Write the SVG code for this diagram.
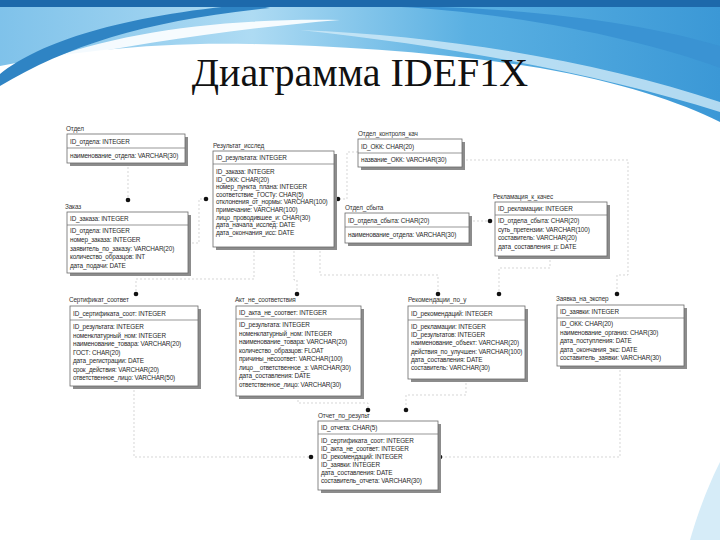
<svg xmlns="http://www.w3.org/2000/svg" width="720" height="540" viewBox="0 0 720 540">
<style>
.lbl{font-family:"Liberation Sans",Arial,sans-serif;font-size:6.4px;fill:#333;letter-spacing:-0.15px}
.t{font-family:"Liberation Sans",Arial,sans-serif;font-size:6.4px;fill:#2a2a2a;letter-spacing:-0.15px}
.box{fill:#fff;stroke:#6a6a6a;stroke-width:0.8}
.sh{fill:#8c8c8c}
.div{stroke:#6a6a6a;stroke-width:0.7}
.rel{fill:none;stroke:#c4c4c4;stroke-width:0.7;stroke-dasharray:2 2}
.dot{fill:#111}
.title{font-family:"Liberation Serif","Times New Roman",serif;font-size:40px;fill:#111}
</style>
<defs>
<linearGradient id="gMain" x1="0" y1="0" x2="1" y2="0">
<stop offset="0" stop-color="#7fc2ea"/>
<stop offset="0.35" stop-color="#aedbf3"/>
<stop offset="0.65" stop-color="#5ab0e2"/>
<stop offset="1" stop-color="#3b98d6"/>
</linearGradient>
</defs>
<rect width="720" height="540" fill="#fff"/>
<g id="background">
<path d="M0,0 H720 V122 C680,102 620,82 540,68 C440,52 340,46 250,44 C150,42 70,52 0,66 Z" fill="url(#gMain)"/>
<path d="M380,6 C500,10 640,38 720,68 V46 C640,22 520,6 380,6 Z" fill="#3a93d3"/>
<path d="M300,30 C450,36 600,62 720,102 V112 C600,74 450,46 300,30 Z" fill="#cfeaf8" opacity="0.8"/>
<path d="M40,62 C120,32 220,18 340,20 C240,28 150,42 40,62 Z" fill="#fff" opacity="0.9"/>
<path d="M0,74 C40,42 120,16 250,4 L270,8 C150,20 70,44 0,86 Z" fill="#2f84c4"/>
<rect x="0" y="0" width="720" height="7" fill="#1d69ab"/>
<path d="M690,540 C700,505 712,478 720,462 V540 Z" fill="#d6ecf8"/>
</g>
<text class="title" x="360" y="86" text-anchor="middle">Диаграмма IDEF1X</text>

<g id="connectors">
<path class="rel" d="M128,163 V198"/>
<path class="rel" d="M188,243 H199 V199 H204"/>
<path class="rel" d="M358,152 H347 V199 H339"/>
<path class="rel" d="M469,221 H489"/>
<path class="rel" d="M462,160 H628 V275 H617 V292"/>
<path class="rel" d="M254,247 V279 H136 V292"/>
<path class="rel" d="M294,247 V280 H297 V292"/>
<path class="rel" d="M320,247 V275 H438 V292"/>
<path class="rel" d="M550,256 V268 H499 V292"/>
<path class="rel" d="M298,396 V403 H368 V408"/>
<path class="rel" d="M466,379 V395 H406 V408"/>
<path class="rel" d="M134,386 V457 H309"/>
<path class="rel" d="M620,366 V457 H441"/>
<circle class="dot" cx="128" cy="200" r="2.3"/>
<circle class="dot" cx="206" cy="199" r="2.3"/>
<circle class="dot" cx="338" cy="199" r="2.3"/>
<circle class="dot" cx="490" cy="221" r="2.3"/>
<circle class="dot" cx="136" cy="294" r="2.3"/>
<circle class="dot" cx="297" cy="294" r="2.3"/>
<circle class="dot" cx="438" cy="294" r="2.3"/>
<circle class="dot" cx="499" cy="294" r="2.3"/>
<circle class="dot" cx="617" cy="294" r="2.3"/>
<circle class="dot" cx="368" cy="410" r="2.3"/>
<circle class="dot" cx="406" cy="410" r="2.3"/>
<circle class="dot" cx="311" cy="457" r="2.3"/>
<circle class="dot" cx="440" cy="457" r="2.3"/>
</g>

<g id="otdel">
<text class="lbl" x="66" y="131">Отдел</text>
<rect class="sh" x="70" y="137" width="118" height="29"/>
<rect class="box" x="67" y="134" width="118" height="29"/>
<text class="t" x="70" y="144">ID_отдела: INTEGER</text>
<line class="div" x1="67" y1="148" x2="185" y2="148"/>
<text class="t" x="70" y="158">наименование_отдела: VARCHAR(30)</text>
</g>

<g id="rezultat">
<text class="lbl" x="213" y="148">Результат_исслед</text>
<rect class="sh" x="216" y="154" width="121" height="96"/>
<rect class="box" x="213" y="151" width="121" height="96"/>
<text class="t" x="216" y="160">ID_результата: INTEGER</text>
<line class="div" x1="213" y1="164" x2="334" y2="164"/>
<text class="t" x="216" y="174">ID_заказа: INTEGER</text>
<text class="t" x="216" y="181.6">ID_ОКК: CHAR(20)</text>
<text class="t" x="216" y="189.2">номер_пункта_плана: INTEGER</text>
<text class="t" x="216" y="196.8">соответствие_ГОСТу: CHAR(5)</text>
<text class="t" x="216" y="204.4">отклонения_от_нормы: VARCHAR(100)</text>
<text class="t" x="216" y="212">примечание: VARCHAR(100)</text>
<text class="t" x="216" y="219.6">лицо_проводившее_и: CHAR(30)</text>
<text class="t" x="216" y="227.2">дата_начала_исслед: DATE</text>
<text class="t" x="216" y="234.8">дата_окончания_исс: DATE</text>
</g>

<g id="okk">
<text class="lbl" x="358" y="136">Отдел_контроля_кач</text>
<rect class="sh" x="361" y="142" width="104" height="28"/>
<rect class="box" x="358" y="139" width="104" height="28"/>
<text class="t" x="361" y="149">ID_ОКК: CHAR(20)</text>
<line class="div" x1="358" y1="153" x2="462" y2="153"/>
<text class="t" x="361" y="162">название_ОКК: VARCHAR(30)</text>
</g>

<g id="otdel_sbyta">
<text class="lbl" x="345" y="210">Отдел_сбыта</text>
<rect class="sh" x="348" y="216" width="124" height="30"/>
<rect class="box" x="345" y="213" width="124" height="30"/>
<text class="t" x="348" y="223">ID_отдела_сбыта: CHAR(20)</text>
<line class="div" x1="345" y1="227" x2="469" y2="227"/>
<text class="t" x="348" y="237">наименование_отдела: VARCHAR(30)</text>
</g>

<g id="reklamaciya">
<text class="lbl" x="493" y="199">Рекламация_к_качес</text>
<rect class="sh" x="498" y="205" width="112" height="54"/>
<rect class="box" x="495" y="202" width="112" height="54"/>
<text class="t" x="498" y="211">ID_рекламации: INTEGER</text>
<line class="div" x1="495" y1="215" x2="607" y2="215"/>
<text class="t" x="498" y="223">ID_отдела_сбыта: CHAR(20)</text>
<text class="t" x="498" y="231.5">суть_претензии: VARCHAR(100)</text>
<text class="t" x="498" y="240">составитель: VARCHAR(20)</text>
<text class="t" x="498" y="248.5">дата_составления_р: DATE</text>
</g>

<g id="zakaz">
<text class="lbl" x="65" y="209">Заказ</text>
<rect class="sh" x="70" y="215" width="121" height="61"/>
<rect class="box" x="67" y="212" width="121" height="61"/>
<text class="t" x="70" y="221">ID_заказа: INTEGER</text>
<line class="div" x1="67" y1="225" x2="188" y2="225"/>
<text class="t" x="70" y="233">ID_отдела: INTEGER</text>
<text class="t" x="70" y="242">номер_заказа: INTEGER</text>
<text class="t" x="70" y="250.5">заявитель_по_заказу: VARCHAR(20)</text>
<text class="t" x="70" y="259">количество_образцов: INT</text>
<text class="t" x="70" y="267.5">дата_подачи: DATE</text>
</g>

<g id="sertifikat">
<text class="lbl" x="69" y="302">Сертификат_соответ</text>
<rect class="sh" x="73" y="309" width="128" height="80"/>
<rect class="box" x="70" y="306" width="128" height="80"/>
<text class="t" x="73" y="316">ID_сертификата_соот: INTEGER</text>
<line class="div" x1="70" y1="320" x2="198" y2="320"/>
<text class="t" x="73" y="329">ID_результата: INTEGER</text>
<text class="t" x="73" y="337.5">номенклатурный_ном: INTEGER</text>
<text class="t" x="73" y="346">наименование_товара: VARCHAR(20)</text>
<text class="t" x="73" y="354.5">ГОСТ: CHAR(20)</text>
<text class="t" x="73" y="363">дата_регистрации: DATE</text>
<text class="t" x="73" y="371.5">срок_действия: VARCHAR(20)</text>
<text class="t" x="73" y="380">ответственное_лицо: VARCHAR(50)</text>
</g>

<g id="akt">
<text class="lbl" x="235" y="302">Акт_не_соответствия</text>
<rect class="sh" x="239" y="309" width="125" height="90"/>
<rect class="box" x="236" y="306" width="125" height="90"/>
<text class="t" x="239" y="315">ID_акта_не_соответ: INTEGER</text>
<line class="div" x1="236" y1="319" x2="361" y2="319"/>
<text class="t" x="239" y="327">ID_результата: INTEGER</text>
<text class="t" x="239" y="335.5">номенклатурный_ном: INTEGER</text>
<text class="t" x="239" y="344">наименование_товара: VARCHAR(20)</text>
<text class="t" x="239" y="352.5">количество_образцов: FLOAT</text>
<text class="t" x="239" y="361">причины_несоответ: VARCHAR(100)</text>
<text class="t" x="239" y="369.5">лицо__ответственное_з: VARCHAR(30)</text>
<text class="t" x="239" y="378">дата_составления: DATE</text>
<text class="t" x="239" y="386.5">ответственное_лицо: VARCHAR(30)</text>
</g>

<g id="rekomendacii">
<text class="lbl" x="408" y="302">Рекомендации_по_у</text>
<rect class="sh" x="411" y="309" width="117" height="73"/>
<rect class="box" x="408" y="306" width="117" height="73"/>
<text class="t" x="411" y="316">ID_рекомендаций: INTEGER</text>
<line class="div" x1="408" y1="320" x2="525" y2="320"/>
<text class="t" x="411" y="329">ID_рекламации: INTEGER</text>
<text class="t" x="411" y="337.2">ID_результатов: INTEGER</text>
<text class="t" x="411" y="345.4">наименование_объект: VARCHAR(20)</text>
<text class="t" x="411" y="353.6">действия_по_улучшен: VARCHAR(100)</text>
<text class="t" x="411" y="361.8">дата_составления: DATE</text>
<text class="t" x="411" y="370">составитель: VARCHAR(30)</text>
</g>

<g id="zayavka">
<text class="lbl" x="556" y="301">Заявка_на_экспер</text>
<rect class="sh" x="560" y="308" width="127" height="61"/>
<rect class="box" x="557" y="305" width="127" height="61"/>
<text class="t" x="560" y="314">ID_заявки: INTEGER</text>
<line class="div" x1="557" y1="318" x2="684" y2="318"/>
<text class="t" x="560" y="326">ID_ОКК: CHAR(20)</text>
<text class="t" x="560" y="334.5">наименование_организ: CHAR(30)</text>
<text class="t" x="560" y="343">дата_поступления: DATE</text>
<text class="t" x="560" y="351.5">дата_окончания_экс: DATE</text>
<text class="t" x="560" y="360">составитель_заявки: VARCHAR(30)</text>
</g>

<g id="otchet">
<text class="lbl" x="318" y="418">Отчет_по_результ</text>
<rect class="sh" x="321" y="424" width="120" height="69"/>
<rect class="box" x="318" y="421" width="120" height="69"/>
<text class="t" x="321" y="430">ID_отчета: CHAR(5)</text>
<line class="div" x1="318" y1="434" x2="438" y2="434"/>
<text class="t" x="321" y="443">ID_сертификата_соот: INTEGER</text>
<text class="t" x="321" y="451">ID_акта_не_соответ: INTEGER</text>
<text class="t" x="321" y="459">ID_рекомендаций: INTEGER</text>
<text class="t" x="321" y="467">ID_заявки: INTEGER</text>
<text class="t" x="321" y="475">дата_составления: DATE</text>
<text class="t" x="321" y="483">составитель_отчета: VARCHAR(30)</text>
</g>
</svg>
